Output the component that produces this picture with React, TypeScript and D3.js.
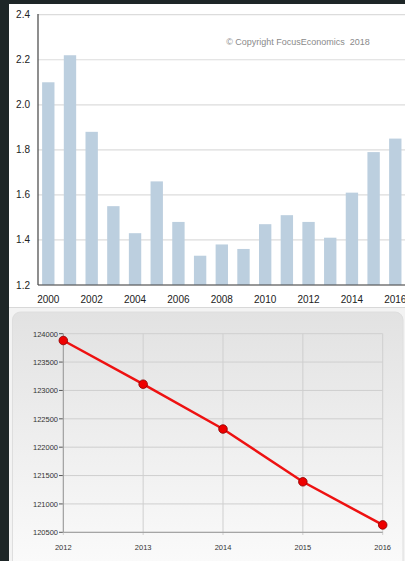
import React from "react";
import * as d3 from "d3";

const years: string[] = ["2000","2001","2002","2003","2004","2005","2006","2007","2008","2009","2010","2011","2012","2013","2014","2015","2016"];
const barValues: number[] = [2.10, 2.22, 1.88, 1.55, 1.43, 1.66, 1.48, 1.33, 1.38, 1.36, 1.47, 1.51, 1.48, 1.41, 1.61, 1.79, 1.85];
const barTicks: number[] = [1.2, 1.4, 1.6, 1.8, 2.0, 2.2, 2.4];
const barXLabels: string[] = ["2000","2002","2004","2006","2008","2010","2012","2014","2016"];

const lineYears: string[] = ["2012","2013","2014","2015","2016"];
const lineValues: number[] = [123880, 123110, 122320, 121390, 120630];
const lineTicks: number[] = [120500, 121000, 121500, 122000, 122500, 123000, 123500, 124000];

const W = 405, H = 561;

export default function App() {
  // top bar chart
  const bx0 = 38, bx1 = 405.6;
  const xB = d3.scaleBand<string>().domain(years).range([bx0, bx1]).paddingInner(0.43).paddingOuter(0.19);
  const yB = d3.scaleLinear().domain([1.2, 2.4]).range([285, 14.7]);

  // bottom line chart
  const xL = d3.scalePoint<string>().domain(lineYears).range([63.3, 382.7]);
  const yL = d3.scaleLinear().domain([120500, 124000]).range([532.3, 333.7]);
  const line = d3.line<number>().x((_, i) => xL(lineYears[i]) as number).y(d => yL(d));

  const font = "Arial, 'Liberation Sans', Helvetica, sans-serif";

  return (
    <svg width={W} height={H} style={{ position: "fixed", left: 0, top: 0 }} fontFamily={font}>
      <defs>
        <linearGradient id="pg" x1="0" y1="0" x2="0" y2="1">
          <stop offset="0" stopColor="#e2e2e2" />
          <stop offset="1" stopColor="#fbfbfb" />
        </linearGradient>
        <clipPath id="topclip"><rect x={9} y={4} width={396} height={303} /></clipPath>
      </defs>
      <rect x={0} y={0} width={W} height={H} fill="#1e2627" />
      {/* top panel */}
      <rect x={9} y={4} width={396} height={303} fill="#ffffff" />
      <g clipPath="url(#topclip)">
        {barTicks.map(t => (
          <line key={t} x1={bx0} x2={405} y1={yB(t)} y2={yB(t)} stroke="#dcdcdc" strokeWidth={1.2} />
        ))}
        {years.map((y, i) => (
          <rect key={y} x={xB(y)} y={yB(barValues[i])} width={xB.bandwidth()} height={yB(1.2) - yB(barValues[i])} fill="#bccfdf" />
        ))}
        <line x1={bx0} x2={bx0} y1={14} y2={285} stroke="#444" strokeWidth={1.2} />
        <line x1={bx0} x2={405} y1={285} y2={285} stroke="#444" strokeWidth={1.2} />
        {barTicks.map(t => (
          <text key={t} x={30} y={yB(t) + 3.5} textAnchor="end" fontSize={10} fill="#222">{t.toFixed(1)}</text>
        ))}
        {barXLabels.map(l => (
          <text key={l} x={(xB(l) as number) + xB.bandwidth() / 2} y={303} textAnchor="middle" fontSize={10} fill="#222">{l}</text>
        ))}
        <text x={298} y={45} textAnchor="middle" fontSize={9} fill="#8a8a8a" style={{ whiteSpace: "pre" }}>© Copyright FocusEconomics  2018</text>
      </g>
      {/* bottom panel */}
      <rect x={9} y={307} width={396} height={254} fill="#f3f3f3" />
      <line x1={9} x2={405} y1={307.5} y2={307.5} stroke="#d8d8d8" />
      <rect x={12.5} y={312} width={390.5} height={260} rx={8} fill="url(#pg)" stroke="#dedede" />
      {lineTicks.map(t => (
        <g key={t}>
          <line x1={63.3} x2={382.7} y1={yL(t)} y2={yL(t)} stroke="#cfcfcf" strokeWidth={1} />
          <line x1={59} x2={63.3} y1={yL(t)} y2={yL(t)} stroke="#555" strokeWidth={1} />
          <text x={58} y={yL(t) + 2.8} textAnchor="end" fontSize={7.5} fill="#333">{t}</text>
        </g>
      ))}
      {lineYears.map(y => (
        <g key={y}>
          <line x1={xL(y)} x2={xL(y)} y1={333.7} y2={535} stroke="#cfcfcf" strokeWidth={1} />
          <text x={xL(y)} y={550} textAnchor="middle" fontSize={7.5} fill="#333">{y}</text>
        </g>
      ))}
      <line x1={63.3} x2={63.3} y1={333.7} y2={532.3} stroke="#999" strokeWidth={1} />
      <line x1={63.3} x2={382.7} y1={532.3} y2={532.3} stroke="#999" strokeWidth={1} />
      <path d={line(lineValues) as string} fill="none" stroke="#ee1111" strokeWidth={2.5} />
      {lineValues.map((v, i) => (
        <circle key={i} cx={xL(lineYears[i])} cy={yL(v)} r={4.3} fill="#ee0000" stroke="#880000" strokeWidth={0.8} />
      ))}
    </svg>
  );
}
